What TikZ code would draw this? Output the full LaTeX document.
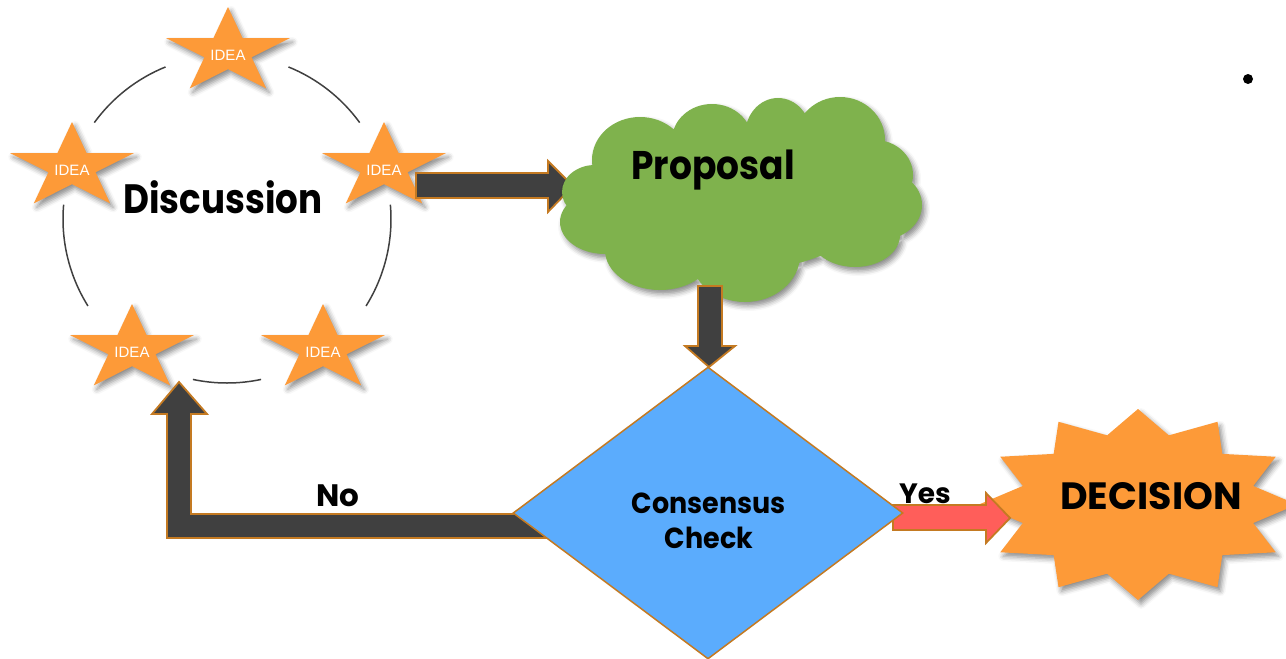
\documentclass[tikz,border=0pt]{standalone}
\usepackage{fontspec}
\setmainfont{Poppins}
\newfontfamily\ideafont{Liberation Sans}
\usetikzlibrary{shapes.geometric,shadows.blur}
\definecolor{starorange}{RGB}{253,154,56}
\definecolor{arrowdark}{RGB}{64,64,64}
\definecolor{arrowedge}{RGB}{196,122,34}
\definecolor{cloudgreen}{RGB}{127,178,77}
\definecolor{checkblue}{RGB}{91,172,253}
\definecolor{yesred}{RGB}{255,94,90}
\definecolor{ringgray}{RGB}{64,64,64}
\begin{document}
\begin{tikzpicture}[x=1pt,y=-1pt,
  softshadow/.style={blur shadow={shadow xshift=3pt,shadow yshift=-4pt,shadow blur radius=5pt,shadow opacity=45}},
  ring/.style={draw=ringgray,line width=1.5pt},
  blockarrow/.style={fill=arrowdark,draw=arrowedge,line width=1.8pt,line join=miter},
  yesarrow/.style={fill=yesred,draw=arrowedge,line width=1.8pt,line join=miter},
  idea/.style={text=white,font=\ideafont\fontsize{15}{15}\selectfont,inner sep=0pt,anchor=base},
  bigtext/.style={font=\bfseries\fontsize{#1}{#1}\selectfont,inner sep=0pt,anchor=base},
  ideastar/.pic={
    \fill[starorange,softshadow] (0,-45)--(14.6,-13.9)--(61.8,-13.9)--(23.6,5.3)--(38.2,36.4)--(0,17.2)--(-38.2,36.4)--(-23.6,5.3)--(-61.8,-13.9)--(-14.6,-13.9)--cycle;
    \node[idea] (-text) at (0,8) {IDEA};
  }
]
\useasboundingbox (0,0) rectangle (1286,659);
% ring of discussion
\coordinate (ringc) at (227,219);
\draw[ring] (ringc) ++(112:164pt) arc[start angle=112,end angle=144,radius=164pt];
\draw[ring] (ringc) ++(175:164pt) arc[start angle=175,end angle=212,radius=164pt];
\draw[ring] (ringc) ++(258:164pt) arc[start angle=258,end angle=282,radius=164pt];
\draw[ring] (ringc) ++(328:164pt) arc[start angle=328,end angle=365,radius=164pt];
\draw[ring] (ringc) ++(36:164pt) arc[start angle=36,end angle=68,radius=164pt];
% stars
\pic (s1) at (228,52) {ideastar};
\pic (s2) at (72,167) {ideastar};
\pic (s3) at (384,167) {ideastar};
\pic (s4) at (132,349) {ideastar};
\pic (s5) at (323,349) {ideastar};
% arrow discussion -> proposal
\draw[blockarrow] (416,173) -- (548,173) -- (548,161) -- (573,186) -- (548,212) -- (548,198) -- (416,198) -- cycle;
% cloud (union of puffs)
\coordinate (cloud) at (742,200);
\fill[cloudgreen,softshadow]
  (742,200) ellipse[x radius=130pt,y radius=70pt]
  (595,192) ellipse[x radius=33pt,y radius=27pt]
  (640,160) ellipse[x radius=48pt,y radius=43pt]
  (712,140) ellipse[x radius=40pt,y radius=36pt]
  (778,135) ellipse[x radius=33pt,y radius=37pt]
  (840,140) ellipse[x radius=45pt,y radius=43pt]
  (875,175) ellipse[x radius=38pt,y radius=35pt]
  (880,205) ellipse[x radius=42pt,y radius=35pt]
  (855,235) ellipse[x radius=45pt,y radius=32pt]
  (745,255) ellipse[x radius=55pt,y radius=47pt]
  (660,250) ellipse[x radius=55pt,y radius=40pt]
  (605,222) ellipse[x radius=45pt,y radius=32pt];
% arrow proposal -> check
\draw[blockarrow] (698,286) -- (722,286) -- (722,346) -- (735,346) -- (709,367) -- (685,346) -- (698,346) -- cycle;
% No arrow
\draw[blockarrow] (550,514) -- (191,514) -- (191,414) -- (207,414) -- (179,382) -- (152,414) -- (167,414) -- (167,538) -- (550,538) -- cycle;
% decision burst
\coordinate (decision) at (1138,504.5);
\fill[starorange,softshadow] (1297,504.5) \foreach \i in {1,...,23}{ -- ({1138+ifthenelse(mod(\i,2)==0,159,119.25)*cos(15*\i)},{504.5-ifthenelse(mod(\i,2)==0,95.5,71.6)*sin(15*\i)}) } -- cycle;
% yes arrow
\draw[yesarrow] (893,505) -- (986,505) -- (986,493) -- (1010,518) -- (986,543) -- (986,530) -- (893,530) -- cycle;
% diamond
\node[diamond, draw=arrowedge, fill=checkblue, line width=1.5pt, minimum width=390, minimum height=292, inner sep=0pt] (check) at (708,513) {};
% texts
\node[bigtext=41] (discussion) at (223,213) {\scalebox{0.87}[1]{Discussion}};
\node[bigtext=40] (proposal) at (713,179) {\scalebox{0.9}[1]{Proposal}};
\node[bigtext=29] (consensus) at (709,513) {\scalebox{0.93}[1]{Consensus}};
\node[bigtext=29] (checktext) at (709,548) {\scalebox{0.93}[1]{Check}};
\node[bigtext=31] (no) at (338,506) {No};
\node[bigtext=28] (yes) at (925,503) {Yes};
\node[bigtext=38] (decisiontext) at (1151,509) {DECISION};
\fill (1248,79) circle[radius=5] coordinate (bullet);
\end{tikzpicture}
\end{document}
